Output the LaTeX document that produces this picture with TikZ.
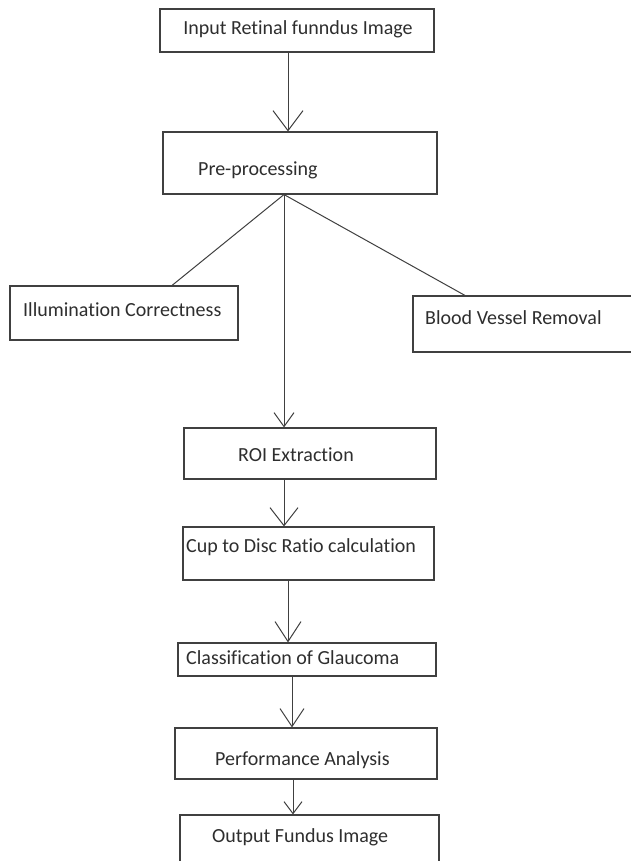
\documentclass[tikz,border=0pt]{standalone}
\usepackage{fontspec}
\setmainfont[Ligatures=NoCommon]{Carlito}
\usetikzlibrary{arrows.meta}
\definecolor{ln}{gray}{0.25}
\definecolor{tx}{gray}{0.18}
\begin{document}
\begin{tikzpicture}[x=1pt,y=-1pt,
  box/.style={draw=ln,line width=1.1pt,fill=white,inner sep=0pt},
  lbl/.style={text=tx,inner sep=0pt,font=\fontsize{20}{23}\selectfont},
  conn/.style={draw=ln,line width=1pt},
  barb/.style n args={2}{-{Straight Barb[length=#1pt,width=#2pt,line width=1pt]}}]
\useasboundingbox (0,0) rectangle (630,861);
\fill[white] (0,0) rectangle (630,861);

\node[box,minimum width=274pt,minimum height=43pt] (in) at (297,30.5) {};
\node[box,minimum width=274pt,minimum height=62pt] (pre) at (300,163) {};
\node[box,minimum width=228pt,minimum height=54pt] (ill) at (124,313) {};
\node[box,minimum width=222pt,minimum height=56pt] (bvr) at (524,324) {};
\node[box,minimum width=252pt,minimum height=51pt] (roi) at (310,453.5) {};
\node[box,minimum width=251pt,minimum height=53pt] (cup) at (308.5,553.5) {};
\node[box,minimum width=258pt,minimum height=33pt] (cls) at (307,659.5) {};
\node[box,minimum width=262pt,minimum height=51pt] (perf) at (306,753.5) {};
\node[box,minimum width=259pt,minimum height=55pt] (out) at (309.5,842.5) {};

\node[lbl,anchor=center] (in-t) at (298,29) {Input Retinal funndus Image};
\node[lbl,anchor=west] (pre-t) at (198,170) {Pre-processing};
\node[lbl,anchor=west] (ill-t) at (23,310) {Illumination Correctness};
\node[lbl,anchor=west] (bvr-t) at (425,318) {Blood Vessel Removal};
\node[lbl,anchor=west] (roi-t) at (238,455) {ROI Extraction};
\node[lbl,anchor=west] (cup-t) at (186,547) {Cup to Disc Ratio calculation};
\node[lbl,anchor=west] (cls-t) at (186,658) {Classification of Glaucoma};
\node[lbl,anchor=west] (perf-t) at (215,760) {Performance Analysis};
\node[lbl,anchor=west] (out-t) at (212,837) {Output Fundus Image};

\coordinate (fan) at ([xshift=-16pt]pre.south);

\draw[conn,barb={20}{30}] ([xshift=-9pt]in.south) -- ([xshift=-12pt]pre.north);
\draw[conn] (fan) -- ([xshift=48pt]ill.north);
\draw[conn] (fan) -- ([xshift=-59pt]bvr.north);
\draw[conn,barb={14}{20}] (fan) -- (fan |- roi.north);
\draw[conn,barb={18}{28}] (roi.south -| fan) -- (cup.north -| fan);
\draw[conn,barb={20}{26}] ([xshift=-20.5pt]cup.south) -- ([xshift=-19pt]cls.north);
\draw[conn,barb={18}{24}] ([xshift=-15pt]cls.south) -- ([xshift=-14pt]perf.north);
\draw[conn,barb={12}{18}] ([xshift=-13pt]perf.south) -- ([xshift=-16.5pt]out.north);
\end{tikzpicture}
\end{document}
